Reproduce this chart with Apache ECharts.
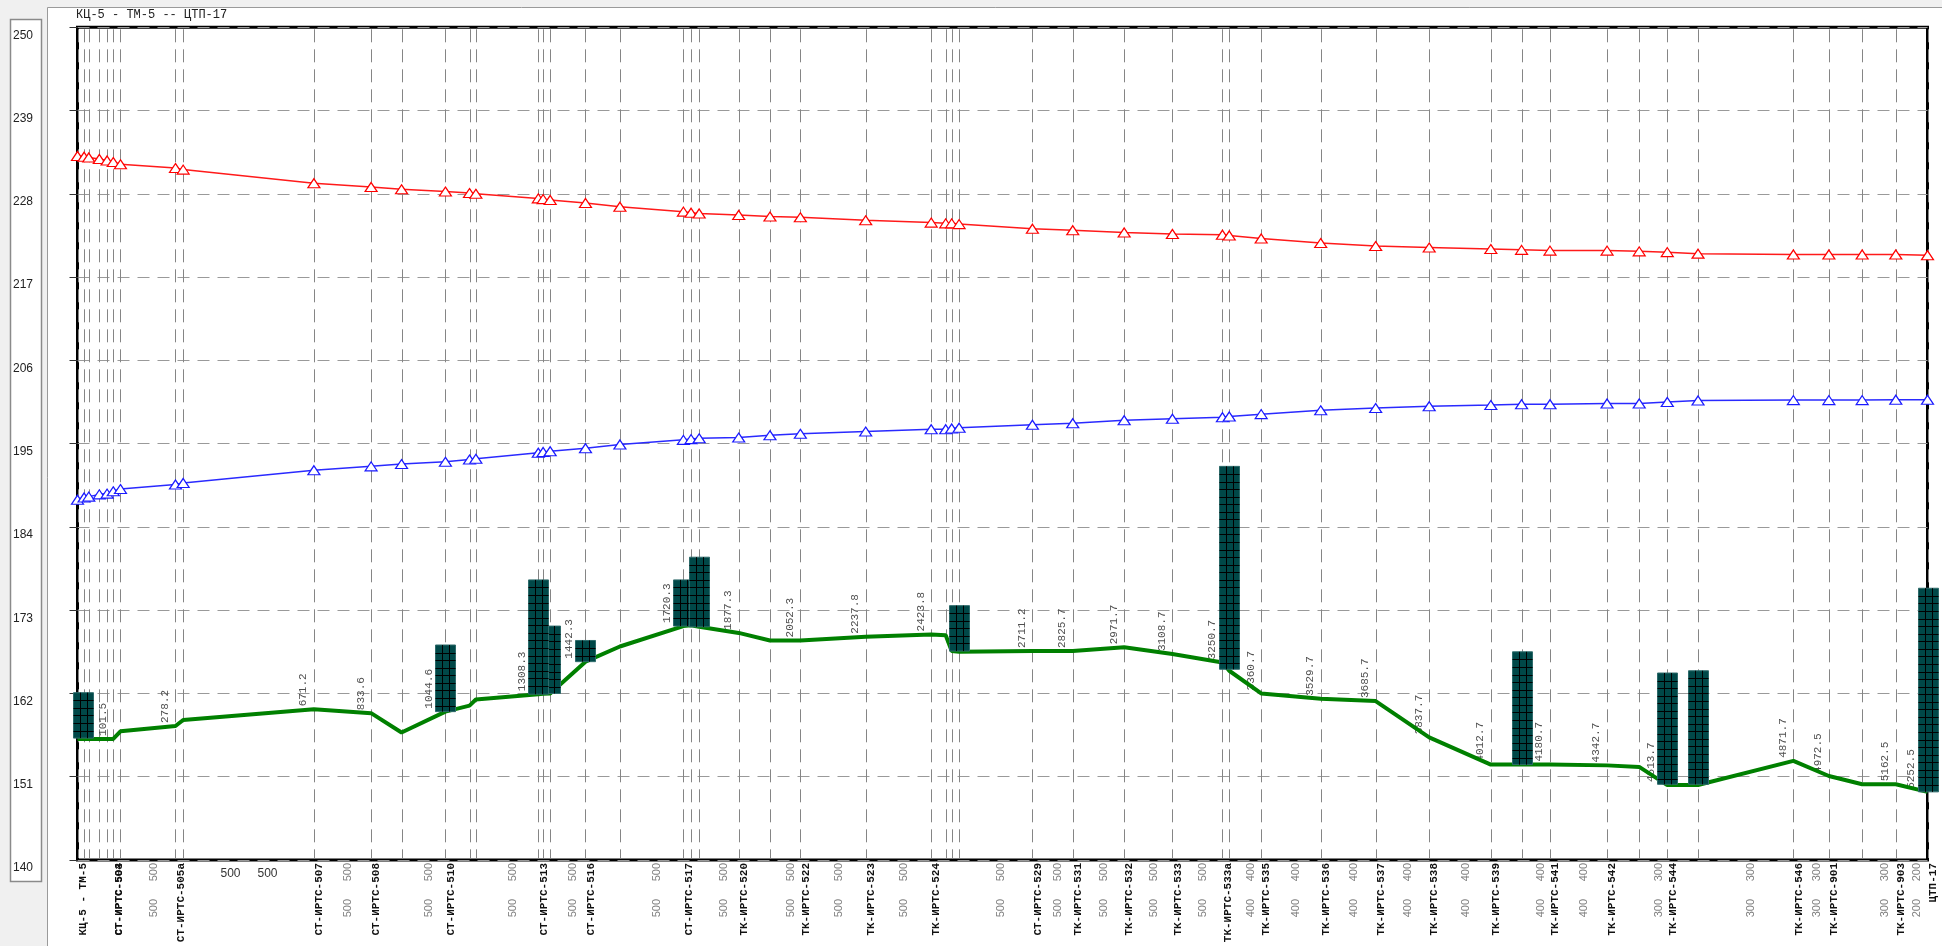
<!DOCTYPE html>
<html><head><meta charset="utf-8">
<script src="https://cdn.jsdelivr.net/npm/echarts@6/dist/echarts.min.js"></script>
<style>html,body{margin:0;padding:0;background:#f0f0f0;overflow:hidden}#c{width:1942px;height:946px}</style>
</head><body><div id="c"></div>
<script>
const chartTitle = 'КЦ-5 - ТМ-5 -- ЦТП-17';
const yTicks = [140, 151, 162, 173, 184, 195, 206, 217, 228, 239, 250];

const dist = [0, 18.7, 32, 62, 84, 101.5, 122, 278.2, 300, 671.2, 833.6, 920, 1044.6, 1113, 1131, 1308.3, 1322, 1342, 1442.3, 1540, 1720.3, 1742, 1765, 1877.3, 1966, 2052.3, 2237.8, 2423.8, 2465, 2482, 2503, 2711.2, 2825.7, 2971.7, 3108.7, 3250.7, 3270, 3360.7, 3529.7, 3685.7, 3837.7, 4012.7, 4100, 4180.7, 4342.7, 4434, 4513.7, 4601, 4871.7, 4972.5, 5067, 5162.5, 5252.5];
const redVals = [233.0, 232.9, 232.8, 232.6, 232.4, 232.2, 231.9, 231.4, 231.2, 229.4, 228.9, 228.6, 228.3, 228.1, 228.0, 227.4, 227.3, 227.2, 226.8, 226.3, 225.65, 225.5, 225.4, 225.2, 225.0, 224.9, 224.5, 224.2, 224.1, 224.1, 224.0, 223.4, 223.2, 222.9, 222.7, 222.6, 222.5, 222.1, 221.5, 221.1, 220.9, 220.7, 220.6, 220.5, 220.5, 220.4, 220.3, 220.1, 220.0, 220.0, 220.0, 220.0, 219.9];
const blueVals = [187.6, 187.9, 188.0, 188.3, 188.4, 188.7, 189.0, 189.6, 189.8, 191.5, 192.0, 192.3, 192.6, 192.9, 193.0, 193.8, 193.9, 194.0, 194.4, 194.9, 195.5, 195.6, 195.7, 195.8, 196.1, 196.3, 196.6, 196.9, 196.9, 197.0, 197.1, 197.5, 197.7, 198.1, 198.3, 198.5, 198.6, 198.9, 199.4, 199.7, 199.95, 200.1, 200.2, 200.2, 200.3, 200.3, 200.5, 200.7, 200.75, 200.75, 200.75, 200.8, 200.8];
const groundVals = [156.0, 156.0, 156.0, 156.0, 156.0, 156.0, 157.0, 157.7, 158.5, 159.9, 159.4, 156.85, 159.6, 160.4, 161.2, 161.9, 161.95, 162.0, 166.2, 168.2, 170.9, 171.0, 170.8, 170.0, 169.0, 169.0, 169.5, 169.8, 169.7, 167.6, 167.5, 167.6, 167.6, 168.1, 167.2, 166.1, 165.0, 162.0, 161.3, 161.0, 156.2, 152.6, 152.6, 152.6, 152.5, 152.3, 149.9, 149.9, 153.1, 151.1, 150.0, 150.0, 149.0];

const barPos = [16, 1044.6, 1342, 1308.3, 1442.3, 1720.3, 1765, 2503, 3270, 4100, 4513.7, 4601, 5252.5];
const barBottom = [156.1, 159.6, 162.0, 161.9, 166.2, 170.9, 170.8, 167.6, 165.2, 152.6, 150.0, 150.0, 149.0];
const barTop = [162.1, 168.4, 170.9, 177.0, 169.0, 177.0, 180.0, 173.6, 192.0, 167.5, 164.7, 165.0, 175.9];

const distLabels = [101.5, 278.2, 671.2, 833.6, 1044.6, 1308.3, 1442.3, 1720.3, 1877.3, 2052.3, 2237.8, 2423.8, 2711.2, 2825.7, 2971.7, 3108.7, 3250.7, 3360.7, 3529.7, 3685.7, 3837.7, 4012.7, 4180.7, 4342.7, 4513.7, 4871.7, 4972.5, 5162.5, 5252.5];

const stationPos = [0, 101.5, 104, 278.2, 671.2, 833.6, 1044.6, 1308.3, 1442.3, 1720.3, 1877.3, 2052.3, 2237.8, 2423.8, 2711.2, 2825.7, 2971.7, 3108.7, 3250.7, 3360.7, 3529.7, 3685.7, 3837.7, 4012.7, 4180.7, 4342.7, 4513.7, 4871.7, 4972.5, 5162.5, 5252.5];
const stationNames = ['КЦ-5 - ТМ-5', 'СТ-ИРТС-503', 'СТ-ИРТС-504', 'СТ-ИРТС-505а', 'СТ-ИРТС-507', 'СТ-ИРТС-508', 'СТ-ИРТС-510', 'СТ-ИРТС-513', 'СТ-ИРТС-516', 'СТ-ИРТС-517', 'ТК-ИРТС-520', 'ТК-ИРТС-522', 'ТК-ИРТС-523', 'ТК-ИРТС-524', 'СТ-ИРТС-529', 'ТК-ИРТС-531', 'ТК-ИРТС-532', 'ТК-ИРТС-533', 'ТК-ИРТС-533а', 'ТК-ИРТС-535', 'ТК-ИРТС-536', 'ТК-ИРТС-537', 'ТК-ИРТС-538', 'ТК-ИРТС-539', 'ТК-ИРТС-541', 'ТК-ИРТС-542', 'ТК-ИРТС-544', 'ТК-ИРТС-546', 'ТК-ИРТС-901', 'ТК-ИРТС-903', 'ЦТП-17'];

const diaPos = [200.1, 485.6, 752.4, 982.3, 1219.7, 1392.2, 1630.2, 1821.2, 2009.2, 2145, 2330.8, 2607.1, 2768.5, 2898.7, 3040.2, 3179.7, 3315.4, 3445.2, 3607.7, 3761.7, 3925.2, 4140.4, 4261.7, 4473.9, 4736.4, 4922.1, 5114.8, 5207.5];
const diaText = ['500','500','500','500','500','500','500','500','500','500','500','500','500','500','500','500','400','400','400','400','400','400','400','300','300','300','300','200'];

const X_MIN = 0, X_MAX = 5252.5;
const Y_MIN = yTicks[0], Y_MAX = yTicks[yTicks.length - 1], Y_STEP = yTicks[1] - yTicks[0];
const BAR_W = 20;
const MONO = '"Liberation Mono", "DejaVu Sans Mono", monospace';
const SANS = '"Liberation Sans", Arial, sans-serif';

function groundAt(d) {
  for (let i = 0; i < dist.length - 1; i++) {
    if (d >= dist[i] && d <= dist[i + 1]) {
      const t = (d - dist[i]) / (dist[i + 1] - dist[i]);
      return groundVals[i] + t * (groundVals[i + 1] - groundVals[i]);
    }
  }
  return groundVals[groundVals.length - 1];
}
function segAround(d) {
  for (let i = 0; i < dist.length - 1; i++) if (d >= dist[i] && d <= dist[i + 1]) return [dist[i], dist[i + 1]];
  return [d, d];
}

const chart = echarts.init(document.getElementById('c'), null, {width: 1942, height: 946});

const option = {
  animation: false,
  backgroundColor: 'transparent',
  title: {
    text: chartTitle, left: 76, top: 9, padding: 0,
    textStyle: {fontFamily: MONO, fontSize: 12, fontWeight: 'normal', color: '#222'}
  },
  graphic: [
    {type: 'rect', z: -100, shape: {x: 47.5, y: 7.5, width: 1900, height: 945}, style: {fill: '#ffffff', stroke: '#9a9a9a', lineWidth: 1}},
    {type: 'rect', z: -100, shape: {x: 10.5, y: 19.5, width: 31, height: 862}, style: {fill: '#ffffff', stroke: '#8a8a8a', lineWidth: 1.5}}
  ],
  grid: {left: 77.5, right: 14.5, top: 27.3, bottom: 86, show: true, borderColor: '#000', borderWidth: 3, backgroundColor: 'transparent'},
  xAxis: {type: 'value', min: X_MIN, max: X_MAX, axisLine: {show: false}, axisTick: {show: false}, axisLabel: {show: false}, splitLine: {show: false}},
  yAxis: {
    type: 'value', min: Y_MIN, max: Y_MAX, interval: Y_STEP, offset: 37.5,
    axisLine: {show: false},
    axisTick: {show: true, length: 8, lineStyle: {color: '#333', width: 1}},
    axisLabel: {align: 'left', verticalAlign: 'top', margin: 27, fontFamily: SANS, fontSize: 12, color: '#222', padding: [2, 0, 0, 0]},
    splitLine: {show: true, lineStyle: {color: '#9a9a9a', width: 1, type: [12, 8]}}
  },
  series: [
    { // vertical dashed station lines
      type: 'custom', z: 1, silent: true, clip: false,
      data: [[0, Y_MIN]],
      renderItem: function (params, api) {
        const ch = [];
        dist.forEach(function (d) {
          const p1 = api.coord([d, Y_MAX]), p2 = api.coord([d, Y_MIN]);
          const x = Math.round(p1[0]) + 0.5;
          ch.push({type: 'line', shape: {x1: x, y1: p1[1] + 2, x2: x, y2: p2[1] - 2}, style: {stroke: '#858585', lineWidth: 1, lineDash: [13, 7]}});
        });
        return {type: 'group', children: ch};
      }
    },
    { // texts
      type: 'custom', z: 2, silent: true, clip: false,
      data: [[0, Y_MIN]],
      renderItem: function (params, api) {
        const ch = [];
        const yBottom = api.coord([0, Y_MIN])[1];
        distLabels.forEach(function (d) {
          const px = api.coord([d, Y_MIN])[0];
          let ax = px - 5;
          barPos.forEach(function (bp) {
            const bx = api.coord([bp, Y_MIN])[0];
            if (px >= bx - BAR_W / 2 - 1 && px <= bx + BAR_W / 2 + 1) ax = Math.min(ax, bx - BAR_W / 2 - 1);
          });
          const gy = api.coord([d, groundAt(d)])[1];
          ch.push({type: 'text', x: ax, y: gy - 3, rotation: Math.PI / 2,
            style: {text: d.toFixed(1), fontFamily: MONO, fontSize: 11, fill: '#505050', align: 'left', verticalAlign: 'bottom'}});
        });
        stationPos.forEach(function (d, i) {
          const px = api.coord([d, Y_MIN])[0];
          ch.push({type: 'text', x: px, y: yBottom + 3, rotation: Math.PI / 2,
            style: {text: stationNames[i], fontFamily: MONO, fontSize: 11, fontWeight: 'bold', fill: '#111', align: 'right', verticalAlign: 'top'}});
        });
        diaPos.forEach(function (d, i) {
          const seg = segAround(d);
          const span = api.coord([seg[1], Y_MIN])[0] - api.coord([seg[0], Y_MIN])[0];
          const px = api.coord([d, Y_MIN])[0];
          if (span > 120) {
            [-18, 19].forEach(function (off) {
              ch.push({type: 'text', x: px + off, y: yBottom + 14,
                style: {text: diaText[i], fontFamily: SANS, fontSize: 12, fill: '#333', align: 'center', verticalAlign: 'middle'}});
            });
          } else {
            [3, 39].forEach(function (off) {
              ch.push({type: 'text', x: px, y: yBottom + off, rotation: Math.PI / 2,
                style: {text: diaText[i], fontFamily: SANS, fontSize: 11, fill: '#808080', align: 'right', verticalAlign: 'top'}});
            });
          }
        });
        return {type: 'group', children: ch};
      }
    },
    {
      type: 'line', z: 3, name: 'ground', symbol: 'none', silent: true,
      data: dist.map(function (d, i) { return [d, groundVals[i]]; }),
      lineStyle: {color: '#008000', width: 4}
    },
    { // chambers
      type: 'custom', z: 4, silent: true, clip: false,
      data: barPos.map(function (d, i) { return [d, barBottom[i], barTop[i]]; }),
      encode: {x: 0, y: [1, 2]},
      renderItem: function (params, api) {
        const d = api.value(0), b = api.value(1), t = api.value(2);
        const pb = api.coord([d, b]), pt = api.coord([d, t]);
        const w = BAR_W, x0 = Math.round(pb[0] - w / 2) + 0.5;
        const unit = Math.abs(api.coord([d, Y_MIN])[1] - api.coord([d, Y_MIN + 1])[1]);
        const ch = [{type: 'rect', shape: {x: x0, y: pt[1], width: w, height: pb[1] - pt[1]}, style: {fill: '#004848', stroke: '#2e6b6b', lineWidth: 1}}];
        for (let k = 1; k < 3; k++) {
          const xx = Math.round(x0 + w * k / 3) + 0.5;
          ch.push({type: 'line', shape: {x1: xx, y1: pt[1], x2: xx, y2: pb[1]}, style: {stroke: '#000', lineWidth: 1}});
        }
        for (let y = pt[1] + unit; y < pb[1] - 2; y += unit) {
          const yy = Math.round(y) + 0.5;
          ch.push({type: 'line', shape: {x1: x0, y1: yy, x2: x0 + w, y2: yy}, style: {stroke: '#000', lineWidth: 1}});
        }
        return {type: 'group', children: ch};
      }
    },
    {
      type: 'line', z: 5, name: 'red', silent: true,
      data: dist.map(function (d, i) { return [d, redVals[i]]; }),
      symbol: 'triangle', symbolSize: [12, 9], showAllSymbol: true,
      itemStyle: {color: '#ffffff', borderColor: '#ff0000', borderWidth: 1.2},
      lineStyle: {color: '#ff1a1a', width: 1.5}
    },
    {
      type: 'line', z: 5, name: 'blue', silent: true,
      data: dist.map(function (d, i) { return [d, blueVals[i]]; }),
      symbol: 'triangle', symbolSize: [12, 9], showAllSymbol: true,
      itemStyle: {color: '#ffffff', borderColor: '#1a1aff', borderWidth: 1.2},
      lineStyle: {color: '#2a2aff', width: 1.5}
    }
  ]
};
chart.setOption(option);
</script>
</body></html>
